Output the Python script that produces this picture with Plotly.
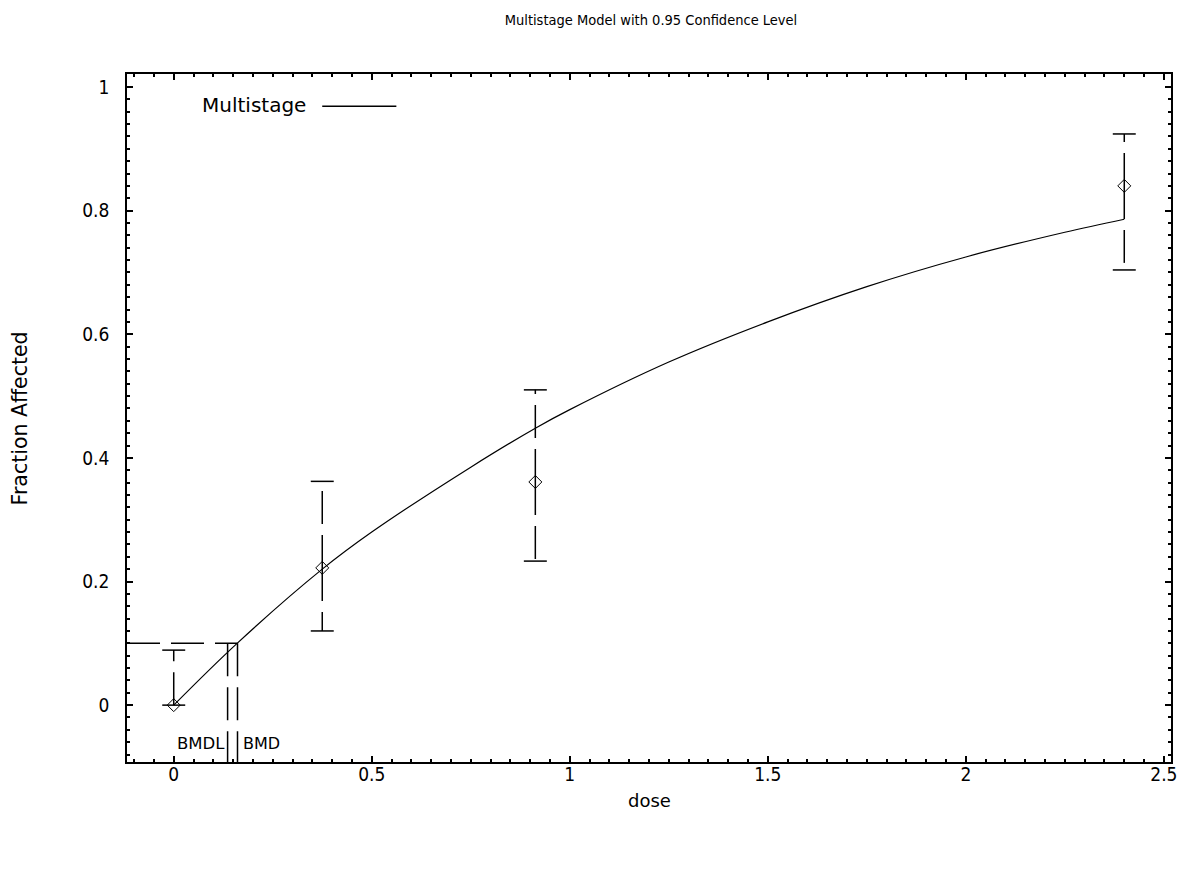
import plotly.graph_objects as go

# Observed data
dose = [0.0, 0.375, 0.913, 2.4]
frac = [0.0, 0.222, 0.361, 0.84]
lower = [0.0, 0.12, 0.233, 0.704]
upper = [0.089, 0.362, 0.51, 0.924]

# Fitted multistage curve
curve_dose = [0.0, 0.16, 0.375, 0.5, 0.75, 0.913, 1.0, 1.25, 1.5, 1.75, 2.0, 2.25, 2.4]
curve_frac = [0.0, 0.1, 0.22, 0.28, 0.385, 0.448, 0.478, 0.555, 0.62, 0.677, 0.725, 0.765, 0.786]

bmd = 0.161
bmdl = 0.136
bmr = 0.1

x_range = [-0.118, 2.518]
y_range = [-0.092, 1.021]

NARROW = "Liberation Sans Narrow, Arial Narrow, DejaVu Sans Condensed, sans-serif"
WIDE = "DejaVu Sans, sans-serif"
DASH = "33px,11px"

fig = go.Figure()

# Fitted curve
fig.add_trace(go.Scatter(x=curve_dose, y=curve_frac, mode="lines", line=dict(color="black", width=1.2, shape="spline"),
                         showlegend=False, hoverinfo="skip"))

# Error bars: each half drawn from the point outward, dashed
cap = 0.029
for d, m, lo, hi in zip(dose, frac, lower, upper):
    for end in (hi, lo):
        fig.add_trace(go.Scatter(x=[d, d], y=[m, end], mode="lines", line=dict(color="black", width=1.5, dash=DASH),
                                 showlegend=False, hoverinfo="skip"))
        fig.add_trace(go.Scatter(x=[d - cap, d + cap], y=[end, end], mode="lines", line=dict(color="black", width=1.5),
                                 showlegend=False, hoverinfo="skip"))

# Data points
fig.add_trace(go.Scatter(x=dose, y=frac, mode="markers",
                         marker=dict(symbol="diamond-open", size=10, color="black", line=dict(width=1, color="black")),
                         showlegend=False))

# BMD / BMDL lines
fig.add_trace(go.Scatter(x=[x_range[0], bmd], y=[bmr, bmr], mode="lines",
                         line=dict(color="black", width=1.5, dash=DASH), showlegend=False, hoverinfo="skip"))
fig.add_trace(go.Scatter(x=[bmd, bmd], y=[bmr, y_range[0]], mode="lines",
                         line=dict(color="black", width=1.5, dash=DASH), showlegend=False, hoverinfo="skip"))
fig.add_trace(go.Scatter(x=[bmdl, bmdl], y=[bmr, y_range[0]], mode="lines",
                         line=dict(color="black", width=1.5, dash=DASH), showlegend=False, hoverinfo="skip"))

fig.add_annotation(x=bmdl, y=-0.062, text="BMDL", showarrow=False, xanchor="right", xshift=-1,
                   font=dict(family=WIDE, size=16.5, color="black"))
fig.add_annotation(x=bmd, y=-0.062, text="BMD", showarrow=False, xanchor="left", xshift=3,
                   font=dict(family=WIDE, size=16, color="black"))

plot_w = 1189 - 127 - 14
plot_h = 869 - 74 - 107

# Legend
fig.add_annotation(x=(200 - 127) / plot_w, y=(869 - 107 - 105) / plot_h, xref="paper", yref="paper",
                   text="Multistage", showarrow=False, xanchor="left", yanchor="middle",
                   font=dict(family=WIDE, size=20, color="black"))
fig.add_shape(type="line", xref="paper", yref="paper", x0=0.187, x1=0.258, y0=0.953, y1=0.953,
              line=dict(color="black", width=1.5))

# Axis titles
fig.add_annotation(x=0.5, y=(869 - 107 - 800) / plot_h, xref="paper", yref="paper", text="dose", showarrow=False,
                   xanchor="center", yanchor="middle",
                   font=dict(family=WIDE, size=18, color="black"))
fig.add_annotation(x=(20 - 127) / plot_w, y=0.5, xref="paper", yref="paper", text="Fraction Affected", showarrow=False,
                   xanchor="center", yanchor="middle", textangle=-90,
                   font=dict(family=WIDE, size=20.5, color="black"))

axis_common = dict(showline=True, linecolor="black", linewidth=1.5, mirror="ticks", ticks="inside",
                   tickcolor="black", ticklen=6, tickwidth=1.5, showgrid=False, zeroline=False,
                   tickfont=dict(family=NARROW, size=19, color="black"))

fig.update_xaxes(range=x_range, tickvals=[0, 0.5, 1, 1.5, 2, 2.5], ticktext=["0", "0.5", "1", "1.5", "2", "2.5"],
                 minor=dict(ticks="inside", ticklen=3, tickwidth=1.5, tickcolor="black", dtick=0.05, tick0=0, showgrid=False),
                 ticklabelstandoff=-6, **axis_common)
fig.update_yaxes(range=y_range, tickvals=[0, 0.2, 0.4, 0.6, 0.8, 1], ticktext=["0", "0.2", "0.4", "0.6", "0.8", "1"],
                 minor=dict(ticks="inside", ticklen=3, tickwidth=1.5, tickcolor="black", dtick=0.02, tick0=0, showgrid=False),
                 ticklabelstandoff=12, **axis_common)

fig.update_layout(
    width=1189, height=869,
    margin=dict(l=127, r=14, t=74, b=107),
    paper_bgcolor="white", plot_bgcolor="white",
    title=dict(text="Multistage Model with 0.95 Confidence Level", x=0.5475, xanchor="center", y=0.977, yanchor="middle",
               font=dict(family=NARROW, size=14.5, color="black")),
    showlegend=False,
)

fig.write_html("out.html")
